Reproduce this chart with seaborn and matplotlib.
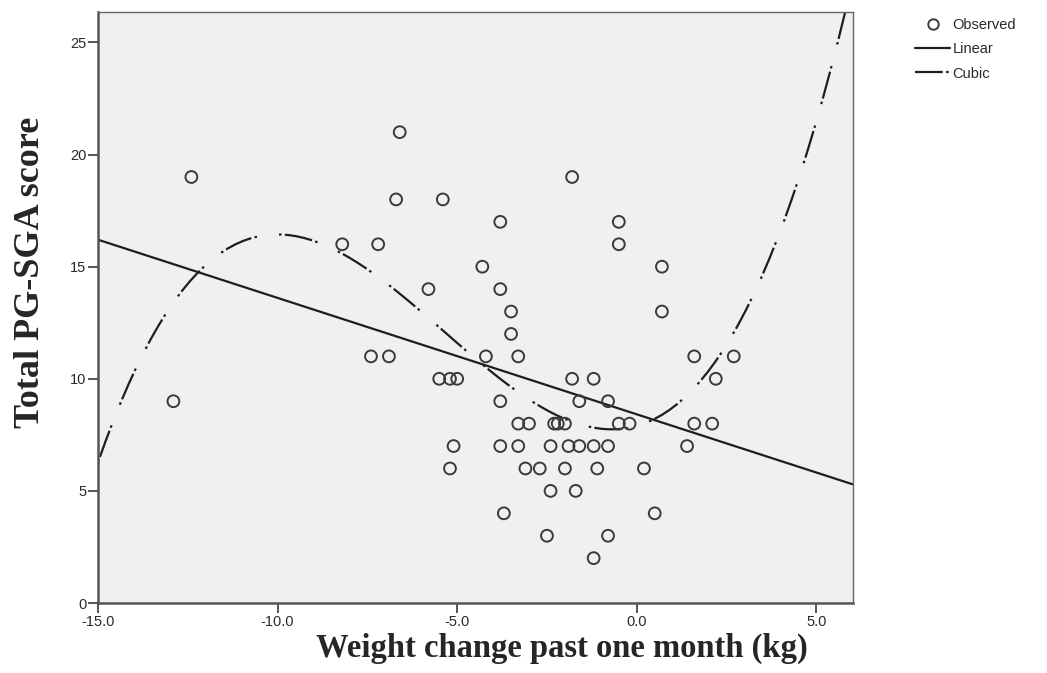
import numpy as np
import pandas as pd
import matplotlib
matplotlib.use("Agg")
import matplotlib.pyplot as plt
from matplotlib.lines import Line2D
import seaborn as sns

# Weight change over the past month (kg) and total PG-SGA score per patient
weight_change = [
    -12.9, -12.4, -8.2, -7.4, -7.2, -6.9, -6.7, -6.6, -5.8, -5.5,
    -5.4, -5.2, -5.0, -5.1, -5.2, -4.3, -4.2, -3.8, -3.8, -3.8,
    -3.8, -3.7, -3.5, -3.5, -3.3, -3.3, -3.3, -3.1, -3.0, -2.7,
    -2.5, -2.4, -2.4, -2.3, -2.2, -2.0, -2.0, -1.9, -1.8, -1.8,
    -1.7, -1.6, -1.6, -1.2, -1.2, -1.2, -1.1, -0.8, -0.8, -0.8,
    -0.5, -0.5, -0.5, -0.2, 0.2, 0.5, 0.7, 0.7, 1.4, 1.6,
    1.6, 2.1, 2.2, 2.7,
]
pgsga_score = [
    9, 19, 16, 11, 16, 11, 18, 21, 14, 10,
    18, 10, 10, 7, 6, 15, 11, 17, 14, 9,
    7, 4, 13, 12, 11, 8, 7, 6, 8, 6,
    3, 7, 5, 8, 8, 8, 6, 7, 19, 10,
    5, 9, 7, 10, 7, 2, 6, 9, 7, 3,
    17, 16, 8, 8, 6, 4, 15, 13, 7, 11,
    8, 8, 10, 11,
]

x_ticks = [-15, -10, -5, 0, 5]
x_tick_labels = ["-15.0", "-10.0", "-5.0", "0.0", "5.0"]
y_ticks = [0, 5, 10, 15, 20, 25]
legend_labels = ["Observed", "Linear", "Cubic"]

df = pd.DataFrame({"weight": weight_change, "score": pgsga_score})

sns.set_theme(style="ticks")
plt.rcParams["font.family"] = ["Liberation Sans", "DejaVu Sans"]
plt.rcParams["lines.scale_dashes"] = False

fig = plt.figure(figsize=(10.47, 6.73), dpi=100)
ax = fig.add_axes([0.0936, 0.1040, 0.7211, 0.8782])
ax.set_facecolor("#f0f0f0")
ax.set_xlim(-15, 6.02)
ax.set_ylim(0, 26.36)

line_color = "#1e1e1e"
cubic_dash = (0, (1.8, 2.4, 20, 2.4, 1.8, 16))

# Fitted curves across the full axis range
sns.regplot(data=df, x="weight", y="score", order=1, ci=None, scatter=False,
            truncate=False, ax=ax,
            line_kws=dict(color=line_color, lw=1.6, solid_capstyle="butt"))
sns.regplot(data=df, x="weight", y="score", order=3, ci=None, scatter=False,
            truncate=False, ax=ax,
            line_kws=dict(color=line_color, lw=1.6, linestyle=cubic_dash))

# Observed values as open circles
sns.scatterplot(data=df, x="weight", y="score", ax=ax, marker="o", s=72,
                facecolor="none", edgecolor="#3a3a3a", linewidth=1.4,
                zorder=3, legend=False)

ax.set_xlim(-15, 6.02)
ax.set_ylim(0, 26.36)
ax.set_xticks(x_ticks)
ax.set_xticklabels(x_tick_labels)
ax.set_yticks(y_ticks)
ax.tick_params(axis="both", direction="out", length=7, width=1.4,
               color="#555555", labelsize=10.5, labelcolor="#2a2a2a", pad=1.5)

for side in ["left", "bottom"]:
    ax.spines[side].set_linewidth(1.8)
    ax.spines[side].set_color("#555555")
for side in ["top", "right"]:
    ax.spines[side].set_visible(True)
    ax.spines[side].set_linewidth(1.0)
    ax.spines[side].set_color("#666666")

serif_bold = dict(family=["Liberation Serif", "DejaVu Serif"], weight="bold")
ax.set_xlabel("Weight change past one month (kg)", fontsize=23.5, **serif_bold)
ax.xaxis.set_label_coords(0.615, -0.076)
ax.xaxis.label.set_va("center")
ax.set_ylabel("Total PG-SGA score", fontsize=26, **serif_bold)
ax.yaxis.set_label_coords(-0.090, 0.56)
ax.yaxis.label.set_va("center")

handles = [
    Line2D([], [], ls="none", marker="o", markersize=7.5, markerfacecolor="none",
           markeredgecolor="#3a3a3a", markeredgewidth=1.4),
    Line2D([], [], color=line_color, lw=1.6),
    Line2D([], [], color=line_color, lw=1.6, linestyle=(0, (20, 2.4, 1.8, 16))),
]
fig.legend(handles, legend_labels, loc="upper left", bbox_to_anchor=(0.874, 0.973),
           frameon=False, fontsize=10.5, handlelength=2.4, handletextpad=0.15,
           labelspacing=0.7, borderpad=0, borderaxespad=0,
           labelcolor="#2a2a2a")

fig.savefig("out.png", dpi=100)
